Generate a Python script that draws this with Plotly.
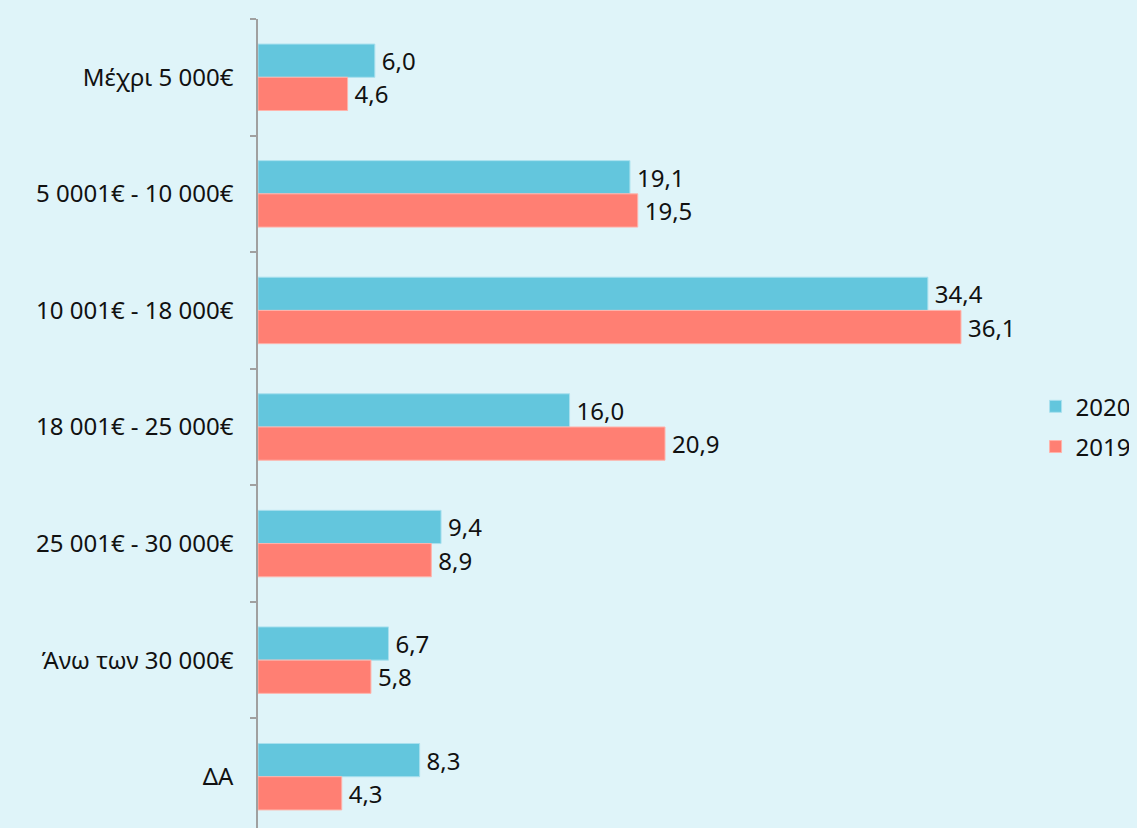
import plotly.graph_objects as go

categories = ["Μέχρι 5 000€", "5 0001€ - 10 000€", "10 001€ - 18 000€",
              "18 001€ - 25 000€", "25 001€ - 30 000€", "Άνω των 30 000€", "ΔΑ"]
values_2020 = [6.0, 19.1, 34.4, 16.0, 9.4, 6.7, 8.3]
values_2019 = [4.6, 19.5, 36.1, 20.9, 8.9, 5.8, 4.3]

FONT = "Noto Sans"
FS = 24
BG = "#dff4f9"
fig = go.Figure()
fig.add_trace(go.Bar(
    y=categories, x=values_2020, orientation="h", name="2020",
    marker=dict(color="#63c6dd", line=dict(color="#a9e0ee", width=1)),
    texttemplate="\u2009%{x:.1f}", textposition="outside", cliponaxis=False,
    textfont=dict(family=FONT, size=FS, color="#111111"),
    legendgroup="a",
))
fig.add_trace(go.Bar(
    y=categories, x=values_2019, orientation="h", name="2019",
    marker=dict(color="#ff7f73", line=dict(color="#ffb3ab", width=1)),
    texttemplate="\u2009%{x:.1f}", textposition="outside", cliponaxis=False,
    textfont=dict(family=FONT, size=FS, color="#111111"),
    legendgroup="b",
))

fig.update_layout(
    width=1129, height=820,
    margin=dict(l=250, r=103, t=11, b=0),
    paper_bgcolor=BG, plot_bgcolor=BG,
    barmode="group", bargap=0.43, bargroupgap=0,
    separators=", ",
    font=dict(family=FONT, size=FS, color="#111111"),
    showlegend=True,
    legend=dict(x=1.002, xanchor="left", y=0.496, yanchor="middle",
                bgcolor="rgba(0,0,0,0)", tracegroupgap=6,
                font=dict(family=FONT, size=FS, color="#111111")),
)
fig.update_xaxes(range=[0, 39.85], showgrid=False, zeroline=False,
                 showticklabels=False, showline=False, ticks="")
fig.update_yaxes(type="category", range=[6.44, -0.5], tickson="boundaries",
                 ticks="outside", ticklen=6, tickcolor="#a0a0a0", tickwidth=1.5,
                 showline=True, linecolor="#a0a0a0", linewidth=1.5,
                 showgrid=False, ticklabelstandoff=18,
                 tickfont=dict(family=FONT, size=FS, color="#111111"))

fig.write_html("out.html",
               post_script="document.body.style.background='%s';" % BG)
